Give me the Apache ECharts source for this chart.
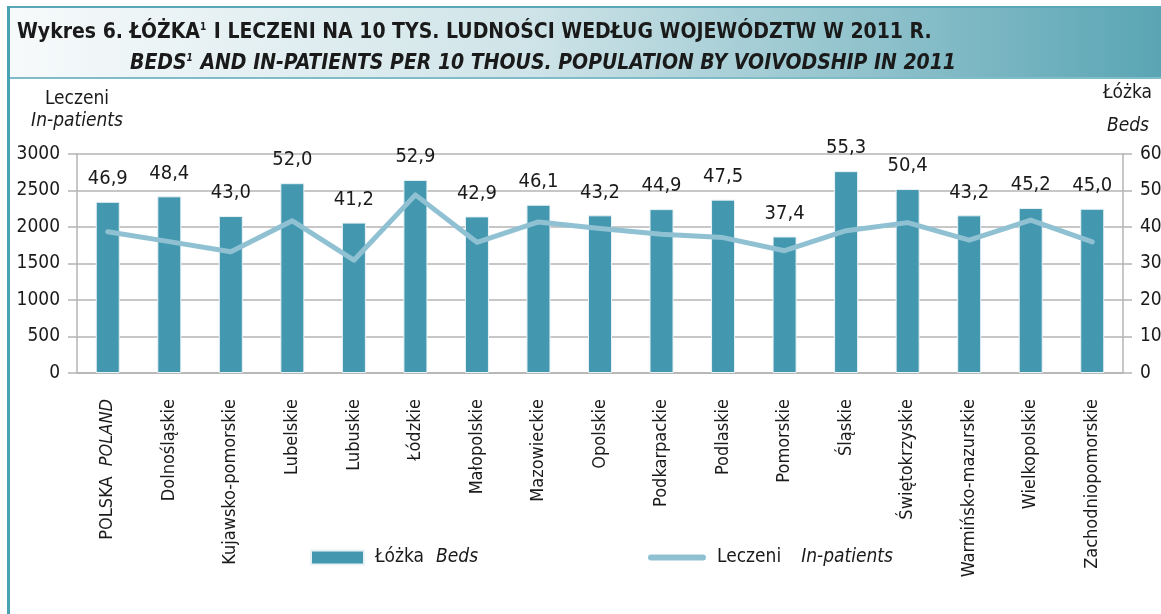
<!DOCTYPE html>
<html lang="pl">
<head>
    <meta charset="UTF-8">
    <title>Łóżka i leczeni</title>
    <script src="https://cdn.jsdelivr.net/npm/echarts@6.0.0/dist/echarts.min.js"></script>
    <style>
        html, body { margin: 0; padding: 0; background: #fff; }
        #chart { width: 1161px; height: 614px; }
    </style>
</head>
<body>
<div id="chart"></div>
<script>
    // dane
    const regions = ['POLSKA  POLAND', 'Dolnośląskie', 'Kujawsko-pomorskie', 'Lubelskie', 'Lubuskie', 'Łódzkie',
        'Małopolskie', 'Mazowieckie', 'Opolskie', 'Podkarpackie', 'Podlaskie', 'Pomorskie', 'Śląskie',
        'Świętokrzyskie', 'Warmińsko-mazurskie', 'Wielkopolskie', 'Zachodniopomorskie'];
    const beds = [46.9, 48.4, 43.0, 52.0, 41.2, 52.9, 42.9, 46.1, 43.2, 44.9, 47.5, 37.4, 55.3, 50.4, 43.2, 45.2, 45.0];
    const inPatients = [1935, 1800, 1660, 2085, 1545, 2440, 1790, 2070, 1980, 1900, 1855, 1675, 1950, 2060, 1820, 2095, 1795];
    const leftTicks = [0, 3000, 500];
    const rightTicks = [0, 60, 10];

    const FONT = '"DejaVu Sans Condensed", "Liberation Sans", sans-serif';
    const TEAL = '#4398b0';
    const LIGHT = '#8fc1d3';
    const GRIDC = '#b4b4b4';

    let myChart = echarts.init(document.getElementById('chart'));
    let option = {
        animation: false,
        backgroundColor: '#fff',
        textStyle: {fontFamily: FONT},
        graphic: [
            {
                type: 'rect', left: 8, top: 8, z: -1,
                shape: {width: 1153, height: 69},
                style: {
                    fill: new echarts.graphic.LinearGradient(0, 0, 1, 0, [
                        {offset: 0, color: '#f7fafb'},
                        {offset: 0.45, color: '#cfe4e8'},
                        {offset: 1, color: '#5aa5b4'}
                    ])
                }
            },
            {type: 'rect', left: 8, top: 6, shape: {width: 1153, height: 2}, style: {fill: '#5aa8b7'}},
            {type: 'rect', left: 8, top: 77, shape: {width: 1153, height: 2}, style: {fill: '#7fbcc8'}},
            {type: 'rect', left: 7, top: 6, shape: {width: 3, height: 608}, style: {fill: '#4aa3b3'}}
        ],
        title: [
            {
                left: 12, top: 17,
                text: '{t|Wykres 6. ŁÓŻKA}{s|1}{t| I LECZENI NA 10 TYS. LUDNOŚCI WEDŁUG WOJEWÓDZTW W 2011 R.}',
                textStyle: {
                    rich: {
                        t: {fontFamily: FONT, fontSize: 21, fontWeight: 'bold', color: '#1a1a1a'},
                        s: {fontFamily: FONT, fontSize: 10, fontWeight: 'bold', color: '#1a1a1a', verticalAlign: 'top', padding: [0, 1, 12, 0]}
                    }
                }
            },
            {
                left: 125, top: 48,
                text: '{t|BEDS}{s|1}{t| AND IN-PATIENTS PER 10 THOUS. POPULATION BY VOIVODSHIP IN 2011}',
                textStyle: {
                    rich: {
                        t: {fontFamily: FONT, fontSize: 21, fontStyle: 'italic', color: '#1a1a1a'},
                        s: {fontFamily: FONT, fontSize: 10, fontStyle: 'italic', color: '#1a1a1a', padding: [0, 1, 12, 0]}
                    }
                }
            }
        ],
        legend: [
            {
                data: ['Łóżka'], left: 305, top: 543,
                itemWidth: 53, itemHeight: 14, icon: 'rect',
                formatter: function () { return '{a|Łóżka}{b|Beds}'; },
                textStyle: {
                    rich: {
                        a: {fontFamily: FONT, fontSize: 19, color: '#1a1a1a', padding: [0, 12, 0, 6]},
                        b: {fontFamily: FONT, fontSize: 19, fontStyle: 'italic', color: '#1a1a1a'}
                    }
                }
            },
            {
                data: [{name: 'Leczeni', icon: 'path://M3,0 H54 A3,3 0 0 1 54,6 H3 A3,3 0 0 1 3,0 Z'}],
                left: 643, top: 543,
                itemWidth: 58, itemHeight: 14,
                formatter: function () { return '{a|Leczeni}{b|In-patients}'; },
                textStyle: {
                    rich: {
                        a: {fontFamily: FONT, fontSize: 19, color: '#1a1a1a', padding: [0, 20, 0, 6]},
                        b: {fontFamily: FONT, fontSize: 19, fontStyle: 'italic', color: '#1a1a1a'}
                    }
                }
            }
        ],
        grid: {left: 77, right: 38, top: 154, bottom: 241, outerBoundsMode: 'none'},
        xAxis: {
            type: 'category',
            data: regions,
            axisLine: {lineStyle: {color: GRIDC, width: 1.5}},
            axisTick: {length: 9, lineStyle: {color: GRIDC, width: 1.5}},
            axisLabel: {
                rotate: 90, margin: 26, interval: 0,
                fontFamily: FONT, fontSize: 18, color: '#1a1a1a',
                formatter: function (v) {
                    if (v === regions[0]) return '{n|POLSKA  }{i|POLAND}';
                    return v;
                },
                rich: {
                    n: {fontFamily: FONT, fontSize: 18, color: '#1a1a1a'},
                    i: {fontFamily: FONT, fontSize: 18, fontStyle: 'italic', color: '#1a1a1a'}
                }
            }
        },
        yAxis: [
            {
                type: 'value',
                min: leftTicks[0], max: leftTicks[1], interval: leftTicks[2],
                name: '{a|Leczeni}\n{b|In-patients}',
                nameLocation: 'end', nameGap: 22,
                nameTextStyle: {
                    rich: {
                        a: {fontFamily: FONT, fontSize: 19, color: '#1a1a1a', lineHeight: 22},
                        b: {fontFamily: FONT, fontSize: 19, fontStyle: 'italic', color: '#1a1a1a', lineHeight: 22}
                    }
                },
                axisLine: {show: true, lineStyle: {color: GRIDC, width: 1.5}},
                axisTick: {show: true, length: 9, lineStyle: {color: GRIDC, width: 1.5}},
                axisLabel: {
                    margin: 17, fontFamily: FONT, fontSize: 19, color: '#1a1a1a',
                    formatter: function (v) { return String(v); }
                },
                splitLine: {lineStyle: {color: GRIDC, width: 1.5}}
            },
            {
                type: 'value',
                min: rightTicks[0], max: rightTicks[1], interval: rightTicks[2],
                name: '{a|Łóżka}\n{b|Beds}',
                nameLocation: 'end', nameGap: 12,
                nameTextStyle: {
                    align: 'left', padding: [0, 0, 0, -20],
                    rich: {
                        a: {fontFamily: FONT, fontSize: 19, color: '#1a1a1a', lineHeight: 34},
                        b: {fontFamily: FONT, fontSize: 19, fontStyle: 'italic', color: '#1a1a1a', lineHeight: 32, padding: [0, 0, 0, 4]}
                    }
                },
                axisLine: {show: true, lineStyle: {color: GRIDC, width: 1.5}},
                axisTick: {show: true, length: 9, lineStyle: {color: GRIDC, width: 1.5}},
                axisLabel: {
                    margin: 17, fontFamily: FONT, fontSize: 19, color: '#1a1a1a',
                    formatter: function (v) { return String(v); }
                },
                splitLine: {show: false}
            }
        ],
        series: [
            {
                name: 'Łóżka',
                type: 'bar',
                yAxisIndex: 1,
                data: beds,
                barWidth: 24,
                itemStyle: {color: TEAL, borderColor: '#e8f2f5', borderWidth: 1},
                label: {
                    show: true, position: 'top', distance: 13,
                    fontFamily: FONT, fontSize: 20, color: '#1a1a1a',
                    formatter: function (p) { return p.value.toFixed(1).replace('.', ','); }
                },
                z: 2
            },
            {
                name: 'Leczeni',
                type: 'line',
                yAxisIndex: 0,
                data: inPatients,
                symbol: 'none',
                lineStyle: {color: LIGHT, width: 5, cap: 'round', join: 'round'},
                itemStyle: {color: LIGHT},
                z: 3
            }
        ]
    };
    myChart.setOption(option);
</script>
</body>
</html>
